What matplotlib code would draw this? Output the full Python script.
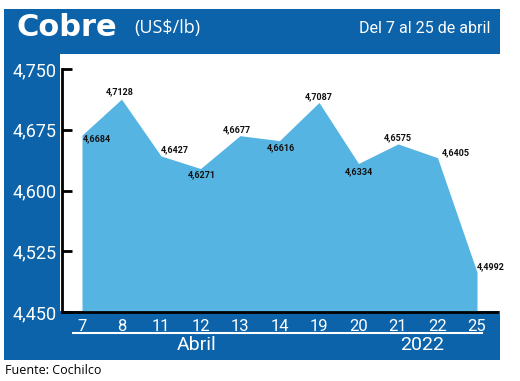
import matplotlib
matplotlib.use('Agg')
from matplotlib import pyplot as plt
from matplotlib.patches import Rectangle
from matplotlib.lines import Line2D

# datos
dias = ['7', '8', '11', '12', '13', '14', '19', '20', '21', '22', '25']
precios = [4.6684, 4.7128, 4.6427, 4.6271, 4.6677, 4.6616, 4.7087, 4.6334, 4.6575, 4.6405, 4.4992]
yticks = [4.450, 4.525, 4.600, 4.675, 4.750]
ytick_labels = ['4,450', '4,525', '4,600', '4,675', '4,750']

AZUL = '#0c63a9'
CELESTE = '#56b4e3'
NARROW = ['Roboto', 'DejaVu Sans']

W, H = 520, 381
def fx(x): return x / W
def fy(y): return 1 - y / H

fig = plt.figure(figsize=(5.2, 3.81), dpi=100)
fig.patch.set_facecolor('white')

# marco azul y zona blanca
fig.add_artist(Rectangle((fx(4), fy(360)), fx(496), (360 - 9) / H, transform=fig.transFigure,
                         facecolor=AZUL, edgecolor='none', zorder=-2))
fig.add_artist(Rectangle((fx(60), fy(311)), fx(460), (311 - 54) / H, transform=fig.transFigure,
                         facecolor='white', edgecolor='none', zorder=-1))

ax = fig.add_axes([fx(62), fy(312), fx(497 - 62), (312 - 69) / H])
ax.patch.set_visible(False)
ax.set_zorder(2)

xs = list(range(len(dias)))
ax.fill_between(xs, precios, 4.45, color=CELESTE, linewidth=0)
ax.set_xlim(-0.506, len(dias) - 1 + 0.506)
ax.set_ylim(4.45, 4.75)

# etiquetas de valores: (dx, dy, ha) en pixeles
offs = [(1, -4, 'left'), (-2, 7, 'center'), (0, 6, 'left'), (1, -6, 'center'),
        (-3, 6, 'center'), (1, -7, 'center'), (0, 6, 'center'), (0, -8, 'center'),
        (0, 6, 'center'), (4, 5, 'left'), (0, 5, 'left')]
for x, v, (dx, dy, ha) in zip(xs, precios, offs):
    ax.annotate('{:.4f}'.format(v).replace('.', ','), (x, v), xytext=(dx, dy),
                textcoords='offset pixels', ha=ha, va='center', fontsize=6.5, fontweight='bold',
                family=NARROW, color='#111111')

ax.set_yticks(yticks, ytick_labels)
ax.set_xticks(xs, dias)
ax.tick_params(axis='y', direction='in', length=7, width=2, color='black', pad=4,
               labelcolor='white', labelsize=13)
ax.tick_params(axis='x', length=0, pad=5, labelcolor='white', labelsize=12)
for t in ax.get_yticklabels() + ax.get_xticklabels():
    t.set_family(NARROW)
for s in ['top', 'right']:
    ax.spines[s].set_visible(False)
ax.spines['left'].set_linewidth(2)
ax.spines['bottom'].set_linewidth(2)

# linea y textos del eje x
fig.add_artist(Line2D([fx(73), fx(482)], [fy(333), fy(333)], color='white', lw=1.5,
                      transform=fig.transFigure))
fig.text(fx(197), fy(345), 'Abril', color='white', fontsize=14, ha='center', va='center', family=NARROW)
fig.text(fx(422), fy(345), '2022', color='white', fontsize=14, ha='center', va='center', family=NARROW)

# titulo
fig.text(fx(17), fy(36), 'Cobre', color='white', fontsize=22, fontweight='bold',
         family=['DejaVu Sans'], ha='left', va='baseline')
fig.text(fx(134), fy(33), '(US$/lb)', color='white', fontsize=13,
         family=['Open Sans', 'DejaVu Sans'], ha='left', va='baseline')
fig.text(fx(490), fy(33), 'Del 7 al 25 de abril', color='white', fontsize=11.5,
         family=NARROW, ha='right', va='baseline')

fig.text(fx(5), fy(371), 'Fuente: Cochilco', color='black', fontsize=9,
         family=['Open Sans', 'DejaVu Sans'], ha='left', va='center')

plt.savefig('out.png', dpi=100)
